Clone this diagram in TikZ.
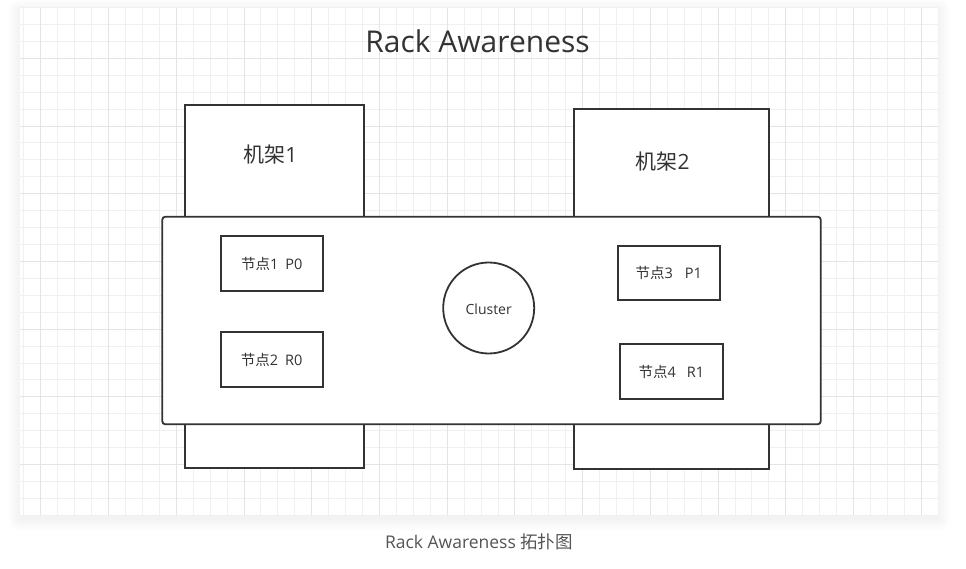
\documentclass[tikz,border=0pt]{standalone}
\usepackage{fontspec}
\setmainfont{Open Sans}
\newfontfamily\cjk{Noto Sans CJK SC}
\definecolor{linec}{HTML}{333333}
\definecolor{textc}{HTML}{333333}
\definecolor{capc}{HTML}{555555}
\definecolor{minorg}{HTML}{F0F0F0}
\definecolor{majorg}{HTML}{E4E4E4}
\tikzset{
  minorline/.style={draw=minorg, line width=1pt},
  majorline/.style={draw=majorg, line width=1pt},
  rackbox/.style={draw=linec, line width=1.8pt, fill=white, inner sep=0pt},
  clusterbox/.style={draw=linec, line width=1.8pt, fill=white, rounded corners=3pt},
  nodebox/.style={draw=linec, line width=1.8pt, fill=white, inner sep=0pt, text=textc, font=\fontsize{14.5}{14.5}\selectfont},
  ringnode/.style={circle, draw=linec, line width=1.8pt, fill=white, inner sep=0pt, minimum size=91, text=textc, font=\fontsize{14}{14}\selectfont},
  lbl/.style={inner sep=0pt, anchor=base, text=textc}
}
\begin{document}
\begin{tikzpicture}[x=1pt,y=-1pt]
\useasboundingbox (0,0) rectangle (966,569);
\fill[white] (0,0) rectangle (966,569);
% card shadow
\foreach \i in {1,...,12}
  \fill[black, opacity=0.005, rounded corners=\i pt] ({20-\i},{8-\i+3}) rectangle ({938+\i},{515+\i+4});
\fill[white] (20,8) rectangle (938,515);
% grid
\begin{scope}
\clip (20,8) rectangle (938,515);
\foreach \k in {-3,...,56} \draw[minorline] ({40.9+16.93*\k},8) -- ({40.9+16.93*\k},515);
\foreach \k in {-4,...,28} \draw[minorline] (20,{58.3+16.93*\k}) -- (938,{58.3+16.93*\k});
\foreach \k in {-1,...,14} \draw[majorline] ({40.9+67.72*\k},8) -- ({40.9+67.72*\k},515);
\foreach \k in {-1,...,7} \draw[majorline] (20,{58.3+67.72*\k}) -- (938,{58.3+67.72*\k});
\end{scope}
% title
\node[lbl, font=\fontsize{30}{30}\selectfont] (title) at (477.5,52.3) {Rack Awareness};
% racks
\node[rackbox, minimum width=179.6, minimum height=363.6] (rack1) at (274.5,286.5) {};
\node[rackbox, minimum width=194.7, minimum height=360] (rack2) at (671.35,289.3) {};
\node[lbl, font=\fontsize{21}{21}\selectfont] (rack1lbl) at (270.4,163) {{\cjk 机架}1};
\node[lbl, font=\fontsize{21}{21}\selectfont] (rack2lbl) at (662.5,169.5) {{\cjk 机架}2};
% cluster area
\draw[clusterbox] (162.3,216.7) rectangle (820.7,424.3);
% nodes
\node[nodebox, minimum width=102, minimum height=55] (n1) at (271.7,263.5) {{\cjk 节点}1\hspace{7pt}P0};
\node[nodebox, minimum width=102, minimum height=54.4] (n2) at (271.7,359.5) {{\cjk 节点}2\hspace{7pt}R0};
\node[nodebox, minimum width=102.3, minimum height=54.6] (n3) at (668.8,273) {{\cjk 节点}3\hspace{12pt}P1};
\node[nodebox, minimum width=102.7, minimum height=55] (n4) at (671.3,371.5) {{\cjk 节点}4\hspace{11pt}R1};
\node[ringnode] (cluster) at (488.7,308) {};
\node[lbl, font=\fontsize{14}{14}\selectfont] (clusterlbl) at (488.7,314.5) {Cluster};
% caption
\node[lbl, text=capc, font=\fontsize{17.5}{17.5}\selectfont] (caption) at (479,548.3) {Rack Awareness {\cjk 拓扑图}};
\end{tikzpicture}
\end{document}
